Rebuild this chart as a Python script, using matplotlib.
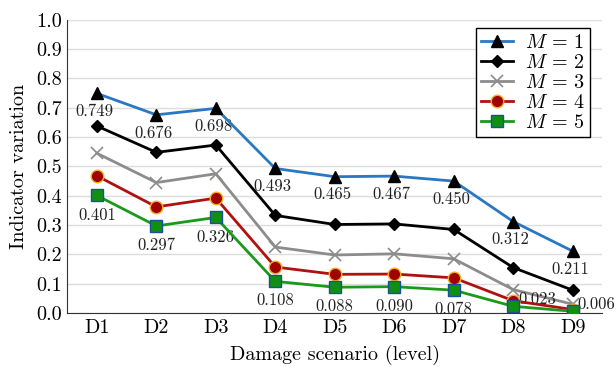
import matplotlib
matplotlib.use("Agg")
import matplotlib.pyplot as plt

plt.rcParams['font.family'] = 'cmr10'
plt.rcParams['mathtext.fontset'] = 'cm'
plt.rcParams['axes.formatter.use_mathtext'] = True

scenarios = ["D1", "D2", "D3", "D4", "D5", "D6", "D7", "D8", "D9"]
m1 = [0.749, 0.676, 0.698, 0.493, 0.465, 0.467, 0.450, 0.312, 0.211]
m2 = [0.638, 0.548, 0.573, 0.333, 0.302, 0.304, 0.285, 0.155, 0.078]
m3 = [0.545, 0.445, 0.475, 0.225, 0.198, 0.202, 0.185, 0.080, 0.030]
m4 = [0.468, 0.362, 0.392, 0.157, 0.132, 0.133, 0.120, 0.042, 0.012]
m5 = [0.401, 0.297, 0.326, 0.108, 0.088, 0.090, 0.078, 0.023, 0.006]

x = list(range(1, len(scenarios) + 1))

fig, ax = plt.subplots(figsize=(6.16, 3.67), dpi=100)
fig.subplots_adjust(left=0.109, right=0.978, top=0.946, bottom=0.147)

ax.plot(x, m1, color='#2a78c2', lw=2.0, marker='^', ms=9, mfc='black', mec='black', label=r'$M\,=\,1$', zorder=5)
ax.plot(x, m2, color='black', lw=2.0, marker='D', ms=6, mfc='black', mec='black', label=r'$M\,=\,2$', zorder=4)
ax.plot(x, m3, color='#8c8c8c', lw=2.0, marker='x', ms=9, mew=1.2, label=r'$M\,=\,3$', zorder=3)
ax.plot(x, m4, color='#b01010', lw=2.0, marker='o', ms=9, mfc='#a00000', mec='#f0b020', mew=1.0, label=r'$M\,=\,4$', zorder=4)
ax.plot(x, m5, color='#1a9a1a', lw=2.0, marker='s', ms=8.5, mfc='#109010', mec='#1a4fa0', mew=1.0, label=r'$M\,=\,5$', zorder=5)

# value labels for the top and bottom series
lbl = dict(textcoords='offset points', ha='center', va='center', fontsize=12, color='#222222')
for i, v in enumerate(m1):
    ax.annotate(f"{v:.3f}", (x[i], v), xytext=(-2, -13), **lbl)
for i, v in enumerate(m5):
    if i >= 7:
        ax.annotate(f"{v:.3f}", (x[i], v), xytext=(17, 5), **lbl)
    else:
        ax.annotate(f"{v:.3f}", (x[i], v), xytext=(0, -14), **lbl)

ax.set_xlim(0.5, 9.5)
ax.set_ylim(0, 1.0)
ax.set_xticks(x)
ax.set_xticklabels(scenarios)
ax.set_yticks([i / 10 for i in range(11)])
ax.set_yticklabels([f"{i / 10:.1f}" for i in range(11)])
ax.tick_params(axis='both', length=0, labelsize=14.5, pad=4)
ax.grid(axis='y', color='#dddddd', lw=1.0)
ax.set_axisbelow(True)
for side in ['top', 'right']:
    ax.spines[side].set_visible(False)
ax.spines['left'].set_color('#333333')
ax.spines['bottom'].set_color('#333333')

ax.set_xlabel("Damage scenario (level)", fontsize=14.5, labelpad=6)
ax.set_ylabel("Indicator variation", fontsize=14.5, labelpad=6)

leg = ax.legend(loc='upper right', fontsize=14.5, frameon=True, fancybox=False, framealpha=1,
                edgecolor='black', handlelength=1.6, borderpad=0.25, labelspacing=0.1,
                handletextpad=0.6, bbox_to_anchor=(0.995, 1.005))
leg.get_frame().set_linewidth(1.0)

fig.savefig("out.png", dpi=100)
